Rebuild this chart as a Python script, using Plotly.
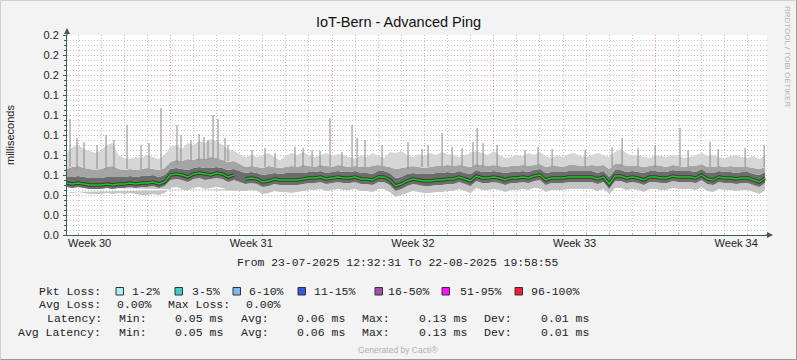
import pandas as pd
import plotly.graph_objects as go

# ---------------- data ----------------
t_start = "2025-07-23 12:32:31"
t_end = "2025-08-22 19:58:55"
sample_times = pd.date_range("2025-07-23 12:00", periods=122, freq="6h")

median = [0.052, 0.051, 0.052, 0.051, 0.050, 0.050, 0.050, 0.051, 0.050, 0.051, 0.051, 0.052, 0.051, 0.052, 0.052, 0.053, 0.051, 0.053,
          0.060, 0.061, 0.060, 0.058, 0.061, 0.062, 0.061, 0.060, 0.062, 0.061, 0.058, 0.060,
          None,
          0.056, 0.057, 0.056, 0.053, 0.054, 0.056, 0.055, 0.055, 0.055, 0.055, 0.056, 0.057, 0.057, 0.058, 0.056, 0.057, 0.058, 0.057, 0.057,
          0.058, 0.056, 0.056, 0.055, 0.058, 0.058, 0.055, 0.049, 0.051, 0.054, 0.056, 0.055, 0.054, 0.054, 0.055, 0.055, 0.056, 0.056, 0.058, 0.056, 0.054, 0.059, 0.057, 0.057,
          0.058, 0.057, 0.055, 0.057, 0.057, 0.058, 0.057, 0.059, 0.060, 0.055, 0.057, 0.057, 0.057, 0.058, 0.058, 0.058, 0.058, 0.058, 0.056, 0.058, 0.051, 0.059, 0.059, 0.057,
          0.058, 0.057, 0.055, 0.058, 0.058, 0.057, 0.057, 0.059, 0.058, 0.058, 0.058, 0.057, 0.060, 0.056, 0.055, 0.058, 0.057, 0.057, 0.056, 0.057, 0.057, 0.055, 0.053, 0.057]

smoke_top = [0.082, 0.088, 0.090, 0.086, 0.084, 0.082, 0.085, 0.090, 0.092, 0.080, 0.077, 0.076, 0.078, 0.077, 0.080, 0.078, 0.076, 0.080,
             0.088, 0.090, 0.086, 0.092, 0.090, 0.094, 0.092, 0.096, 0.094, 0.090, 0.086, 0.084,
             None,
             0.078, 0.080, 0.078, 0.080, 0.082, 0.078, 0.075, 0.079, 0.082, 0.080, 0.083, 0.080, 0.078, 0.080, 0.082, 0.079, 0.081, 0.080, 0.078,
             0.076, 0.080, 0.078, 0.082, 0.079, 0.077, 0.083, 0.082, 0.084, 0.080, 0.078, 0.081, 0.079, 0.082, 0.080, 0.083, 0.081, 0.080, 0.078, 0.080, 0.082, 0.084, 0.082, 0.080,
             0.084, 0.080, 0.077, 0.078, 0.080, 0.079, 0.082, 0.080, 0.083, 0.079, 0.077, 0.080, 0.078, 0.081, 0.082, 0.079, 0.078, 0.080, 0.082, 0.080, 0.078, 0.083, 0.086, 0.082,
             0.079, 0.080, 0.078, 0.077, 0.080, 0.079, 0.078, 0.080, 0.079, 0.077, 0.078, 0.080, 0.082, 0.079, 0.080, 0.078, 0.077, 0.079, 0.080, 0.078, 0.077, 0.079, 0.076, 0.080]

smoke_hi_mid = [0.066, 0.068, 0.069, 0.067, 0.066, 0.065, 0.066, 0.068, 0.069, 0.066, 0.065, 0.066, 0.065, 0.066, 0.067, 0.066, 0.065, 0.067,
                0.073, 0.075, 0.074, 0.076, 0.075, 0.077, 0.076, 0.078, 0.077, 0.075, 0.073, 0.074,
                None,
                0.068, 0.069, 0.068, 0.067, 0.069, 0.068, 0.067, 0.068, 0.069, 0.068, 0.070, 0.069, 0.068, 0.070, 0.069, 0.068, 0.070, 0.069, 0.068,
                0.069, 0.068, 0.068, 0.069, 0.070, 0.069, 0.068, 0.066, 0.067, 0.068, 0.069, 0.068, 0.067, 0.068, 0.069, 0.069, 0.070, 0.069, 0.070, 0.069, 0.068, 0.071, 0.070, 0.069,
                0.070, 0.069, 0.068, 0.069, 0.069, 0.070, 0.069, 0.070, 0.071, 0.068, 0.069, 0.069, 0.068, 0.070, 0.070, 0.069, 0.069, 0.070, 0.069, 0.070, 0.066, 0.071, 0.071, 0.069,
                0.069, 0.069, 0.068, 0.069, 0.070, 0.069, 0.068, 0.070, 0.069, 0.068, 0.069, 0.069, 0.071, 0.068, 0.068, 0.069, 0.068, 0.069, 0.068, 0.068, 0.068, 0.067, 0.066, 0.068]

smoke_hi_inner = [0.058, 0.058, 0.059, 0.058, 0.057, 0.057, 0.057, 0.058, 0.058, 0.058, 0.058, 0.059, 0.058, 0.059, 0.059, 0.060, 0.058, 0.060,
                  0.066, 0.067, 0.066, 0.065, 0.067, 0.068, 0.067, 0.067, 0.068, 0.067, 0.065, 0.066,
                  None,
                  0.062, 0.063, 0.062, 0.060, 0.061, 0.062, 0.061, 0.062, 0.062, 0.062, 0.062, 0.063, 0.063, 0.064, 0.062, 0.063, 0.064, 0.063, 0.063,
                  0.064, 0.062, 0.062, 0.061, 0.064, 0.064, 0.062, 0.057, 0.058, 0.061, 0.062, 0.061, 0.061, 0.061, 0.062, 0.062, 0.063, 0.062, 0.064, 0.062, 0.061, 0.065, 0.063, 0.063,
                  0.064, 0.063, 0.062, 0.063, 0.063, 0.064, 0.063, 0.065, 0.066, 0.062, 0.063, 0.063, 0.063, 0.064, 0.064, 0.064, 0.064, 0.064, 0.062, 0.064, 0.058, 0.065, 0.065, 0.063,
                  0.064, 0.063, 0.062, 0.064, 0.064, 0.063, 0.063, 0.065, 0.064, 0.064, 0.064, 0.063, 0.066, 0.062, 0.062, 0.064, 0.063, 0.063, 0.062, 0.063, 0.063, 0.061, 0.060, 0.063]

smoke_lo_inner = [0.048, 0.047, 0.048, 0.047, 0.046, 0.046, 0.046, 0.047, 0.046, 0.047, 0.047, 0.048, 0.047, 0.048, 0.048, 0.049, 0.047, 0.049,
                  0.055, 0.056, 0.055, 0.053, 0.056, 0.057, 0.055, 0.056, 0.057, 0.056, 0.053, 0.055,
                  None,
                  0.051, 0.052, 0.051, 0.048, 0.049, 0.051, 0.050, 0.050, 0.050, 0.050, 0.051, 0.052, 0.052, 0.053, 0.051, 0.052, 0.053, 0.052, 0.052,
                  0.053, 0.051, 0.051, 0.050, 0.053, 0.053, 0.050, 0.044, 0.046, 0.049, 0.051, 0.050, 0.049, 0.049, 0.050, 0.050, 0.051, 0.051, 0.053, 0.051, 0.049, 0.054, 0.052, 0.052,
                  0.053, 0.052, 0.050, 0.052, 0.052, 0.053, 0.052, 0.054, 0.055, 0.050, 0.052, 0.052, 0.052, 0.053, 0.053, 0.053, 0.053, 0.053, 0.051, 0.053, 0.046, 0.054, 0.054, 0.052,
                  0.053, 0.052, 0.050, 0.053, 0.053, 0.052, 0.052, 0.054, 0.053, 0.053, 0.053, 0.052, 0.055, 0.051, 0.050, 0.053, 0.052, 0.052, 0.051, 0.052, 0.052, 0.050, 0.048, 0.052]

smoke_bottom = [0.043, 0.042, 0.043, 0.042, 0.041, 0.041, 0.041, 0.042, 0.041, 0.042, 0.041, 0.042, 0.041, 0.040, 0.040, 0.041, 0.040, 0.042,
                0.047, 0.048, 0.046, 0.045, 0.047, 0.048, 0.046, 0.047, 0.048, 0.047, 0.045, 0.046,
                None,
                0.044, 0.045, 0.044, 0.041, 0.042, 0.044, 0.043, 0.043, 0.042, 0.043, 0.044, 0.045, 0.045, 0.046, 0.044, 0.045, 0.046, 0.045, 0.045,
                0.046, 0.044, 0.044, 0.043, 0.046, 0.046, 0.043, 0.038, 0.040, 0.042, 0.044, 0.043, 0.042, 0.042, 0.043, 0.043, 0.044, 0.044, 0.046, 0.044, 0.042, 0.047, 0.045, 0.045,
                0.046, 0.045, 0.043, 0.045, 0.045, 0.046, 0.045, 0.047, 0.047, 0.043, 0.045, 0.045, 0.045, 0.046, 0.046, 0.046, 0.046, 0.046, 0.044, 0.046, 0.041, 0.047, 0.047, 0.045,
                0.046, 0.045, 0.043, 0.046, 0.046, 0.045, 0.045, 0.047, 0.046, 0.046, 0.046, 0.045, 0.048, 0.044, 0.043, 0.046, 0.045, 0.045, 0.044, 0.045, 0.045, 0.043, 0.041, 0.045]

spike_times = ["2025-07-23 15:40", "2025-07-25 05:05", "2025-07-26 02:55", "2025-07-27 14:15", "2025-07-28 06:50",
               "2025-07-29 05:45", "2025-07-29 20:20", "2025-07-30 01:30", "2025-07-30 08:45", "2025-08-01 02:20",
               "2025-08-02 09:30", "2025-08-02 17:50", "2025-08-03 21:55", "2025-08-04 20:45", "2025-08-05 02:00",
               "2025-08-07 06:55", "2025-08-08 18:20", "2025-08-09 15:05", "2025-08-10 02:30", "2025-08-10 06:45",
               "2025-08-11 03:30", "2025-08-12 22:05", "2025-08-16 13:25", "2025-08-17 06:00", "2025-08-19 01:35",
               "2025-08-20 08:50", "2025-08-22 17:00",
               "2025-07-23 22:55", "2025-07-24 06:15", "2025-07-24 19:45", "2025-07-25 13:20", "2025-07-26 17:25",
               "2025-07-27 01:45", "2025-07-28 11:00", "2025-07-28 21:25", "2025-07-29 10:55", "2025-07-29 15:05",
               "2025-07-30 11:50", "2025-07-31 12:50", "2025-08-01 12:45", "2025-08-03 03:15", "2025-08-03 11:30",
               "2025-08-04 10:20", "2025-08-05 10:15", "2025-08-06 03:55", "2025-08-07 21:30", "2025-08-08 03:45",
               "2025-08-09 04:45", "2025-08-10 12:55", "2025-08-12 08:30", "2025-08-13 12:40", "2025-08-14 23:00",
               "2025-08-16 03:00", "2025-08-17 23:45", "2025-08-19 10:00", "2025-08-20 17:15", "2025-08-21 21:15"]
spike_tops = [0.116, 0.100, 0.110, 0.127, 0.110,
              0.101, 0.120, 0.116, 0.097, 0.087,
              0.088, 0.087, 0.117, 0.110, 0.097,
              0.093, 0.102, 0.087, 0.093, 0.107,
              0.090, 0.088, 0.097, 0.087, 0.107,
              0.093, 0.090,
              0.097, 0.093, 0.090, 0.095, 0.090,
              0.092, 0.100, 0.095, 0.098, 0.095,
              0.090, 0.085, 0.082, 0.085, 0.084,
              0.083, 0.095, 0.090, 0.086, 0.090,
              0.088, 0.092, 0.085, 0.086, 0.085,
              0.088, 0.090, 0.085, 0.086, 0.087]
spike_bases = [0.068, 0.066, 0.066, 0.066, 0.072,
               0.074, 0.076, 0.076, 0.074, 0.068,
               0.068, 0.068, 0.068, 0.068, 0.068,
               0.066, 0.068, 0.068, 0.068, 0.068,
               0.068, 0.069, 0.069, 0.068, 0.069,
               0.068, 0.068,
               0.066, 0.066, 0.066, 0.066, 0.066,
               0.066, 0.073, 0.074, 0.075, 0.075,
               0.074, 0.068, 0.068, 0.068, 0.068,
               0.068, 0.068, 0.068, 0.068, 0.068,
               0.068, 0.068, 0.068, 0.068, 0.068,
               0.068, 0.068, 0.068, 0.068, 0.068]

week_centers = ["2025-07-24 12:00", "2025-07-31 12:00", "2025-08-07 12:00", "2025-08-14 12:00", "2025-08-21 12:00"]
week_labels = ["Week 30", "Week 31", "Week 32", "Week 33", "Week 34"]

loss_labels = ["1-2%", "3-5%", "6-10%", "11-15%", "16-50%", "51-95%", "96-100%"]
loss_colors = ["#B0F0EC", "#40D0C8", "#80B8F0", "#3858E0", "#A050A8", "#FF10FF", "#F02030"]
avg_loss, max_loss = 0.00, 0.00
lat_min, lat_avg, lat_max, lat_dev = 0.05, 0.06, 0.13, 0.01
avg_lat_min, avg_lat_avg, avg_lat_max, avg_lat_dev = 0.05, 0.06, 0.13, 0.01

# ---------------- layout helpers ----------------
W, H = 797, 360
PL, PR, PT, PB = 67, 767, 35, 235


def fx(p):
    return (p - PL) / (PR - PL)


def fy(p):
    return (PB - p) / (PB - PT)


MONO = "Liberation Mono, Courier New, monospace"
SANS = "Liberation Sans, Arial, sans-serif"

fig = go.Figure()

band_specs = [
    (smoke_bottom, None, None),
    (smoke_lo_inner, "tonexty", "#c4c4c4"),
    (smoke_hi_inner, "tonexty", "#6c6c6c"),
    (smoke_hi_mid, "tonexty", "#a4a4a4"),
    (smoke_top, "tonexty", "#d6d6d6"),
]
for vals, fill, color in band_specs:
    fig.add_trace(go.Scatter(x=sample_times, y=vals, mode="lines", line=dict(width=0, shape="linear"),
                             fill=fill, fillcolor=color, hoverinfo="skip", showlegend=False))

sx, sy = [], []
for t, b, top in zip(spike_times, spike_bases, spike_tops):
    sx += [t, t, None]
    sy += [b, top, None]
fig.add_trace(go.Scatter(x=sx, y=sy, mode="lines", line=dict(color="rgba(140,140,140,0.8)", width=1.3),
                         xaxis="x2", yaxis="y", hoverinfo="skip", showlegend=False))

fig.add_trace(go.Scatter(x=sample_times, y=median, mode="lines",
                         line=dict(color="rgba(30,30,30,0.65)", width=3.5, shape="linear"),
                         hoverinfo="skip", showlegend=False))
fig.add_trace(go.Scatter(x=sample_times, y=median, mode="lines",
                         line=dict(color="#1CCB1C", width=1.4, shape="linear"),
                         hoverinfo="skip", showlegend=False))

RED_GRID = "rgba(225,90,90,0.55)"
GRAY_GRID = "rgba(150,150,150,0.55)"
AXIS_COL = "#3E5A58"

ann = []
ann.append(dict(x=0, y=fy(28), xref="paper", yref="paper", ax=0, ay=9, text="", showarrow=True,
                arrowhead=2, arrowsize=1.2, arrowwidth=1, arrowcolor=AXIS_COL))
ann.append(dict(x=fx(773), y=0, xref="paper", yref="paper", ax=-9, ay=0, text="", showarrow=True,
                arrowhead=2, arrowsize=1.2, arrowwidth=1, arrowcolor=AXIS_COL))
ann.append(dict(x=fx(10), y=fy(135), xref="paper", yref="paper", xanchor="center", yanchor="middle",
                text="milliseconds", textangle=-90,
                showarrow=False, font=dict(family=SANS, size=11, color="#222")))
ann.append(dict(x=fx(788), y=fy(56), xref="paper", yref="paper", xanchor="center", yanchor="middle",
                text="RRDTOOL / TOBI OETIKER", textangle=90,
                showarrow=False, font=dict(family=SANS, size=8, color="#b4b4b4")))
ann.append(dict(x=fx(397.5), y=fy(263), xref="paper", yref="paper", xanchor="center", yanchor="middle",
                text=f"From {pd.Timestamp(t_start):%d-%m-%Y %H:%M:%S} To {pd.Timestamp(t_end):%d-%m-%Y %H:%M:%S}",
                showarrow=False, font=dict(family=MONO, size=11.4, color="#222")))


def mtext(txt, px, py):
    ann.append(dict(x=fx(px), y=fy(py), xref="paper", yref="paper", xanchor="left", yanchor="middle",
                    text=txt.replace(" ", "&nbsp;"), showarrow=False, font=dict(family=MONO, size=11.5, color="#222")))


ROW1, ROW2, ROW3, ROW4 = 291, 304.5, 318.5, 332.5
mtext("Pkt Loss:", 37.3, ROW1)
box_x = [116, 175, 233, 298, 375, 442, 515]
text_x = [130, 189.6, 247.3, 312.3, 386, 457.7, 528.8]
shapes = []
for lab, col, bx, tx in zip(loss_labels, loss_colors, box_x, text_x):
    shapes.append(dict(type="rect", xref="paper", yref="paper", x0=fx(bx), x1=fx(bx + 7.5),
                       y0=fy(ROW1 + 4), y1=fy(ROW1 - 3.5), fillcolor=col, line=dict(color="#333", width=1)))
    mtext(lab, tx, ROW1)

mtext("Avg Loss:", 37.3, ROW2)
mtext(f"{avg_loss:.2f}%", 115.4, ROW2)
mtext("Max Loss:", 166.2, ROW2)
mtext(f"{max_loss:.2f}%", 243.5, ROW2)

for label, lx, row, vals in [("Latency:", 45, ROW3, (lat_min, lat_avg, lat_max, lat_dev)),
                             ("Avg Latency:", 16.2, ROW4, (avg_lat_min, avg_lat_avg, avg_lat_max, avg_lat_dev))]:
    mtext(label, lx, row)
    for name, nx, v, vx in zip(["Min:", "Avg:", "Max:", "Dev:"], [116.5, 238.5, 359.6, 481.5], vals,
                               [173, 295, 417.3, 538.5]):
        mtext(name, nx, row)
        mtext(f"{v:.2f} ms", vx, row)

ann.append(dict(x=fx(398), y=fy(350), xref="paper", yref="paper", xanchor="center", yanchor="middle",
                text="Generated by Cacti®",
                showarrow=False, font=dict(family=SANS, size=8.5, color="#b0b0b0")))

shapes.append(dict(type="line", xref="paper", yref="paper", x0=fx(0.5), x1=fx(796.5), y0=fy(0.5), y1=fy(0.5),
                   line=dict(color="#d0d0d0", width=1)))
shapes.append(dict(type="line", xref="paper", yref="paper", x0=fx(0.5), x1=fx(0.5), y0=fy(0.5), y1=fy(359.5),
                   line=dict(color="#d0d0d0", width=1)))
shapes.append(dict(type="line", xref="paper", yref="paper", x0=fx(0.5), x1=fx(796.5), y0=fy(359.5), y1=fy(359.5),
                   line=dict(color="#9a9a9a", width=1)))
shapes.append(dict(type="line", xref="paper", yref="paper", x0=fx(796.5), x1=fx(796.5), y0=fy(0.5), y1=fy(359.5),
                   line=dict(color="#9a9a9a", width=1)))

fig.update_layout(
    width=W, height=H, autosize=False,
    margin=dict(l=PL, r=W - PR, t=PT, b=H - PB, pad=0),
    paper_bgcolor="#F3F3F3", plot_bgcolor="#FFFFFF",
    title=dict(text="IoT-Bern - Advanced Ping", x=0.5, xanchor="center", y=1 - 22 / H, yanchor="middle",
               font=dict(family=SANS, size=14.5, color="#111")),
    showlegend=False,
    xaxis=dict(type="date", range=[t_start, t_end], showticklabels=False,
               tick0="2025-07-28", dtick=7 * 86400000, tickmode="linear",
               showgrid=True, gridcolor=RED_GRID, griddash="1px,2px", gridwidth=1,
               ticks="inside", ticklen=3, tickcolor=RED_GRID,
               minor=dict(tick0="2025-07-24", dtick=86400000, showgrid=True, gridcolor=GRAY_GRID,
                          griddash="1px,2px", gridwidth=1, ticks="inside", ticklen=2, tickcolor=GRAY_GRID),
               showline=True, linecolor=AXIS_COL, linewidth=1, zeroline=False, fixedrange=True),
    xaxis2=dict(type="date", range=[t_start, t_end], overlaying="x", anchor="y", side="bottom",
                tickmode="array", tickvals=week_centers, ticktext=week_labels, ticks="",
                showgrid=False, showline=False, zeroline=False,
                tickfont=dict(family=SANS, size=11, color="#222")),
    yaxis=dict(range=[0, 0.2], tickmode="linear", tick0=0, dtick=0.02, tickformat=".1f",
               showgrid=True, gridcolor=RED_GRID, griddash="1px,2px", gridwidth=1,
               ticks="outside", ticklen=3, tickcolor=AXIS_COL, ticklabelstandoff=2,
               minor=dict(dtick=0.005, showgrid=True, gridcolor=GRAY_GRID, griddash="1px,2px", gridwidth=1,
                          ticks="outside", ticklen=2, tickcolor=AXIS_COL),
               showline=True, linecolor=AXIS_COL, linewidth=1, zeroline=False,
               tickfont=dict(family=SANS, size=11, color="#222")),
    annotations=ann,
    shapes=shapes,
)

fig.write_html("out.html", config={"displayModeBar": False},
               post_script="document.body.style.margin='0';document.body.style.padding='0';")
